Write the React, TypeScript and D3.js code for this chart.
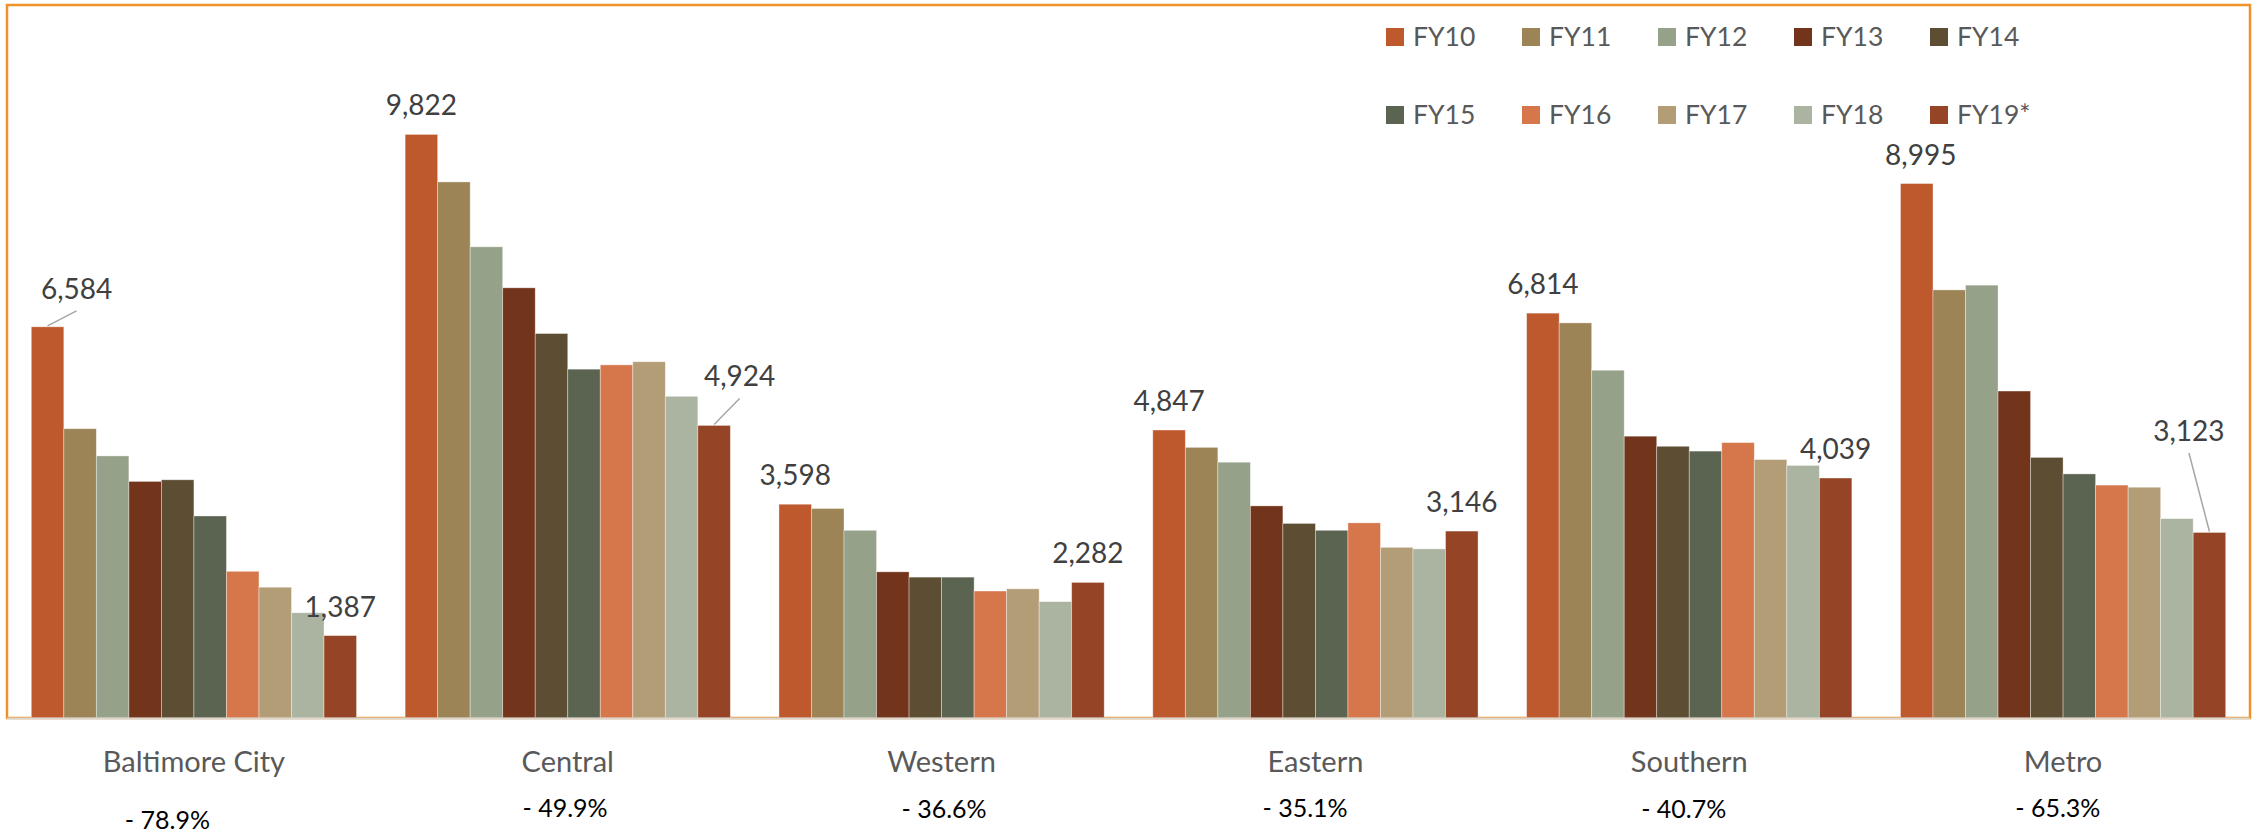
import React from "react";
import * as d3 from "d3";

const categories = ["Baltimore City", "Central", "Western", "Eastern", "Southern", "Metro"];
const seriesNames = ["FY10", "FY11", "FY12", "FY13", "FY14", "FY15", "FY16", "FY17", "FY18", "FY19*"];

const fy10 = [6584, 9822, 3598, 4847, 6814, 8995];
const fy11 = [4869, 9022, 3526, 4555, 6650, 7205];
const fy12 = [4411, 7930, 3159, 4305, 5853, 7285];
const fy13 = [3982, 7240, 2460, 3570, 4743, 5503];
const fy14 = [4009, 6471, 2371, 3275, 4573, 4386];
const fy15 = [3400, 5871, 2371, 3159, 4492, 4108];
const fy16 = [2469, 5943, 2137, 3284, 4635, 3920];
const fy17 = [2201, 5996, 2174, 2872, 4349, 3884];
const fy18 = [1771, 5414, 1959, 2846, 4251, 3356];
const fy19 = [1387, 4924, 2282, 3146, 4039, 3123];

const seriesValues = [fy10, fy11, fy12, fy13, fy14, fy15, fy16, fy17, fy18, fy19];
const labeledSeries = ["FY10", "FY19*"];
const changeLabels = ["- 78.9%", "- 49.9%", "- 36.6%", "- 35.1%", "- 40.7%", "- 65.3%"];
const yTicks = [0, 12000];

const colors = [
  "#BE582D", "#9C8457", "#95A289", "#72341A", "#5C4D33",
  "#5A6450", "#D6764B", "#B39D77", "#AAB4A0", "#954525",
];

// layout (not data)
const W = 2257;
const H = 834;
const plotLeft = 7;
const plotRight = 2250;
const plotTop = 5;
const plotBottom = 718;

const labelNudges: Record<string, { dx: number; dy: number; leader?: boolean }> = {
  "Baltimore City|FY10": { dx: 29, dy: -9, leader: true },
  "Central|FY19*": { dx: 25.5, dy: -20, leader: true },
  "Metro|FY19*": { dx: -20.5, dy: -72.5, leader: true },
  "Metro|FY10": { dx: 4, dy: 0 },
};
const pctNudges = [
  { dx: -26.5, y: 829 },
  { dx: -2.7, y: 816.5 },
  { dx: 2.5, y: 818 },
  { dx: -10.3, y: 816.5 },
  { dx: -5.5, y: 818 },
  { dx: -5.3, y: 816.5 },
];

const FONT = "Lato, 'Open Sans', sans-serif";

export default function App() {
  const x0 = d3
    .scaleBand<string>()
    .domain(categories)
    .range([plotLeft, plotRight])
    .paddingInner(0.13)
    .paddingOuter(0.065);
  const x1 = d3.scaleBand<string>().domain(seriesNames).range([0, x0.bandwidth()]);
  const y = d3
    .scaleLinear()
    .domain([yTicks[0], yTicks[yTicks.length - 1]])
    .range([plotBottom, plotTop]);
  const fmt = d3.format(",");

  const bars: React.ReactNode[] = [];
  const labels: React.ReactNode[] = [];
  categories.forEach((cat, ci) => {
    seriesNames.forEach((s, si) => {
      const v = seriesValues[si][ci];
      const bx = (x0(cat) as number) + (x1(s) as number);
      const bw = x1.bandwidth();
      const top = y(v);
      bars.push(
        <rect
          key={`b-${ci}-${si}`}
          x={bx}
          y={top}
          width={bw}
          height={y(0) - top}
          fill={colors[si]}
          stroke="#ffffff"
          strokeOpacity={0.45}
          strokeWidth={0.8}
        />
      );
      if (labeledSeries.includes(s)) {
        const n = labelNudges[`${cat}|${s}`] || { dx: 0, dy: 0 };
        const cx = bx + bw / 2;
        const lx = cx + n.dx;
        const ly = top - 19 + n.dy;
        if (n.leader) {
          labels.push(
            <line
              key={`ll-${ci}-${si}`}
              x1={cx}
              y1={top - 1}
              x2={lx}
              y2={ly + 12}
              stroke="#A6A6A6"
              strokeWidth={1.5}
            />
          );
        }
        labels.push(
          <text
            key={`l-${ci}-${si}`}
            x={lx}
            y={ly}
            textAnchor="middle"
            fontSize={28}
            fill="#404040"
          >
            {fmt(v)}
          </text>
        );
      }
    });
  });

  const legendX0 = 1386;
  const legendStep = 136;
  const legendRowY = [28, 106];

  return (
    <svg
      width={W}
      height={H}
      style={{ position: "absolute", left: 0, top: 0, background: "#fff" }}
      fontFamily={FONT}
    >
      <rect x={0} y={0} width={W} height={H} fill="#ffffff" />
      <rect
        x={plotLeft}
        y={plotTop}
        width={plotRight - plotLeft}
        height={plotBottom - plotTop}
        fill="none"
        stroke="#F0922B"
        strokeWidth={2.5}
      />
      {bars}
      <line
        x1={plotLeft}
        x2={plotRight}
        y1={y(0) + 0.5}
        y2={y(0) + 0.5}
        stroke="#D9D5CE"
        strokeWidth={2}
      />
      {labels}
      {categories.map((cat, ci) => {
        const cx = (x0(cat) as number) + x0.bandwidth() / 2;
        return (
          <g key={`c-${ci}`}>
            <text x={cx} y={772} textAnchor="middle" fontSize={29} fill="#595959">
              {cat}
            </text>
            <text
              x={cx + pctNudges[ci].dx}
              y={pctNudges[ci].y}
              textAnchor="middle"
              fontSize={25}
              fill="#000000"
            >
              {changeLabels[ci]}
            </text>
          </g>
        );
      })}
      {seriesNames.map((s, si) => {
        const row = Math.floor(si / 5);
        const col = si % 5;
        const lx = legendX0 + col * legendStep;
        const ly = legendRowY[row];
        return (
          <g key={`lg-${si}`}>
            <rect x={lx} y={ly} width={18} height={18} fill={colors[si]} />
            <text x={lx + 27} y={ly + 18} fontSize={26.5} fill="#595959">
              {s}
            </text>
          </g>
        );
      })}
    </svg>
  );
}
